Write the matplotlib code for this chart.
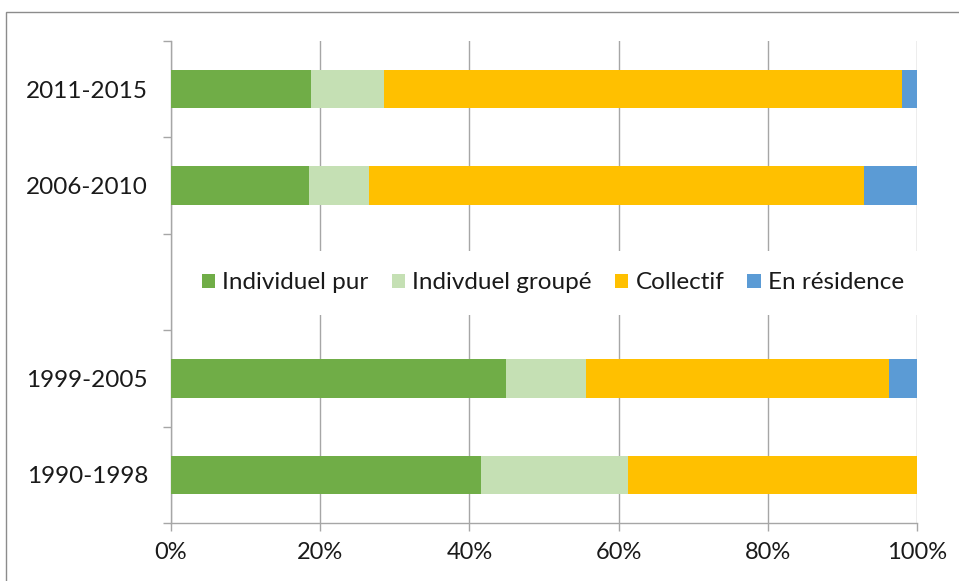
import matplotlib
matplotlib.use("Agg")
import matplotlib.pyplot as plt
import numpy as np
from matplotlib.patches import Rectangle

plt.rcParams['font.family'] = ['Lato', 'DejaVu Sans']

categories = ['1990-1998', '1999-2005', '2006-2010', '2011-2015']
series_names = ['Individuel pur', 'Indivduel groupé', 'Collectif', 'En résidence']
individuel_pur = [41.5, 44.9, 18.5, 18.7]
individuel_groupe = [19.7, 10.7, 8.0, 9.8]
collectif = [38.8, 40.7, 66.4, 69.5]
en_residence = [0.0, 3.7, 7.1, 2.0]
colors = ['#70AD47', '#C5E0B4', '#FFC000', '#5B9BD5']
xtick_vals = [0, 20, 40, 60, 80, 100]
xtick_labels = ['0%', '20%', '40%', '60%', '80%', '100%']

W, H = 959, 581
fig = plt.figure(figsize=(W / 100, H / 100), dpi=100)
fig.patch.set_facecolor('white')

# outer chart frame
fig.patches.append(Rectangle((6 / W, -0.1), 1.2, 1 - 12 / H + 0.1,
                             transform=fig.transFigure, fill=False,
                             edgecolor='#8c8c8c', linewidth=1.0))

ax = fig.add_axes([171 / W, 1 - 523 / H, (917 - 171) / W, (523 - 41) / H])

# leave an empty slot between the two periods for the legend
pos = np.array([i + (1 if i >= 2 else 0) for i in range(len(categories))])
series = [individuel_pur, individuel_groupe, collectif, en_residence]
left = np.zeros(len(categories))
for name, vals, c in zip(series_names, series, colors):
    v = np.array(vals)
    ax.barh(pos, v, left=left, height=0.4, color=c, label=name, zorder=3)
    left += v

ax.set_xlim(0, 100)
ax.set_ylim(-0.5, 4.5)
ax.set_xticks(xtick_vals)
ax.set_xticklabels(xtick_labels)
ax.set_yticks(pos)
ax.set_yticklabels(categories)
ax.set_yticks(np.arange(-0.5, 5.0, 1.0), minor=True)

gray = '#a6a6a6'
ax.grid(axis='x', color=gray, linewidth=1.0, zorder=0)
for s in ['top', 'right']:
    ax.spines[s].set_visible(False)
for s in ['left', 'bottom']:
    ax.spines[s].set_color(gray)
    ax.spines[s].set_linewidth(1.0)

ax.tick_params(axis='y', which='major', length=0, pad=16.5, labelsize=17.5, labelcolor='#1a1a1a')
ax.tick_params(axis='y', which='minor', length=6, color=gray, width=1)
ax.tick_params(axis='x', which='major', length=6, color=gray, width=1, pad=8,
               labelsize=17, labelcolor='#1a1a1a')

leg = ax.legend(loc='center', bbox_to_anchor=(0.512, 0.498), ncol=4, frameon=True,
                fontsize=17.5, handlelength=0.55, handleheight=0.55, handletextpad=0.3,
                columnspacing=0.95, borderpad=0.9, fancybox=False)
leg.get_frame().set_facecolor('white')
leg.get_frame().set_edgecolor('none')
leg.get_frame().set_alpha(1.0)
leg.set_zorder(5)
for t in leg.get_texts():
    t.set_color('#1a1a1a')

fig.savefig('out.png', dpi=100, facecolor='white')
